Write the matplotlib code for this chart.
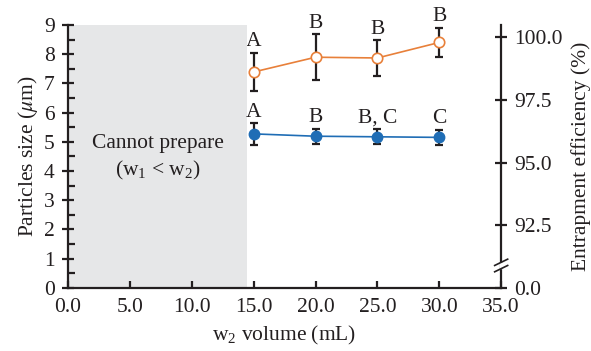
import numpy as np
import matplotlib
matplotlib.use("Agg")
import matplotlib.pyplot as plt
from matplotlib.ticker import MultipleLocator

plt.rcParams["font.family"] = ["Liberation Serif", "DejaVu Serif"]
plt.rcParams["mathtext.fontset"] = "stix"
plt.rcParams["mathtext.default"] = "regular"

# --- data
volume      = [15.0, 20.0, 25.0, 30.0]
size_mean   = [5.27, 5.19, 5.17, 5.15]
size_err    = [0.37, 0.26, 0.26, 0.26]
size_groups = ["A", "B", "B, C", "C"]
ee_mean     = [98.62, 99.21, 99.18, 99.80]
ee_err      = [0.77, 0.91, 0.71, 0.59]
ee_groups   = ["A", "B", "B", "B"]
no_prep     = (0.0, 14.5)

INK    = "#231F20"
BLUE   = "#1F6DB5"
ORANGE = "#E8803A"
SHADE  = "#E6E7E8"
FS     = 15.5

fig = plt.figure(figsize=(5.91, 3.51), dpi=100)
ax = fig.add_axes([0.115, 0.18, 0.733, 0.749])
ax2 = ax.twinx()
ax.set_zorder(ax2.get_zorder() + 1)
ax.patch.set_visible(False)

ax.axvspan(*no_prep, color=SHADE, lw=0, zorder=0)
ax.text(sum(no_prep) / 2, 4.95, "Cannot prepare", ha="center", va="center",
        fontsize=FS, color=INK)
ax.text(sum(no_prep) / 2, 4.0, "(w$_1$ < w$_2$)", ha="center", va="center",
        fontsize=FS, color=INK)

# particle size, left axis
ax.plot(volume, size_mean, color=BLUE, lw=1.2, zorder=3)
ax.errorbar(volume, size_mean, yerr=size_err, fmt="none", ecolor=INK,
            elinewidth=1.6, capsize=3, capthick=1.6, zorder=4)
ax.plot(volume, size_mean, "o", color=BLUE, ms=7.5, zorder=5)
for x, m, e, g in zip(volume, size_mean, size_err, size_groups):
    ax.annotate(g, (x, m + e), xytext=(0, 1), textcoords="offset points",
                ha="center", va="bottom", fontsize=FS, color=INK)

# entrapment efficiency, right axis
ax2.plot(volume, ee_mean, color=ORANGE, lw=1.2, zorder=3)
ax2.errorbar(volume, ee_mean, yerr=ee_err, fmt="none", ecolor=INK,
             elinewidth=1.6, capsize=3, capthick=1.6, zorder=4)
ax2.plot(volume, ee_mean, "o", mfc="white", mec=ORANGE, mew=1.2, ms=7.5,
         zorder=5)
for x, m, e, g in zip(volume, ee_mean, ee_err, ee_groups):
    ax2.annotate(g, (x, m + e), xytext=(0, 1), textcoords="offset points",
                 ha="center", va="bottom", fontsize=FS, color=INK,
                 annotation_clip=False)

ax.set_xlim(0, 35)
ax.set_ylim(0, 9)
ax2.set_ylim(90, 100.5)

ax.set_xticks(np.arange(0, 36, 5))
ax.set_xticklabels([f"{v:.1f}" for v in np.arange(0, 36, 5)])
ax.yaxis.set_major_locator(MultipleLocator(1))
ax.yaxis.set_minor_locator(MultipleLocator(0.5))
ax2.set_yticks([90, 92.5, 95, 97.5, 100])
ax2.set_yticklabels(["0.0", "92.5", "95.0", "97.5", "100.0"])

for a in (ax, ax2):
    a.spines["top"].set_visible(False)
    for s in a.spines.values():
        s.set_linewidth(1.6)
        s.set_color(INK)
ax.spines["right"].set_visible(False)
ax2.spines["left"].set_visible(False)
ax2.spines["bottom"].set_visible(False)

ax.tick_params(axis="x", direction="in", length=5, width=1.6, colors=INK,
               labelsize=FS, pad=7)
ax.tick_params(axis="y", which="major", direction="inout", length=9, width=1.6,
               colors=INK, labelsize=FS, pad=5)
ax.tick_params(axis="y", which="minor", direction="in", length=5, width=1.6,
               colors=INK)
ax2.tick_params(axis="y", direction="inout", length=9, width=1.6, colors=INK,
                labelsize=FS, pad=5)

ax.set_xlabel("w$_2$ volume (mL)", fontsize=FS, color=INK, labelpad=5)
ax.set_ylabel("Particles size ($\\mathit{\\mu}$m)", fontsize=FS, color=INK,
              labelpad=3)
ax2.set_ylabel("Entrapment efficiency (%)", fontsize=FS, color=INK, labelpad=6)

# axis break marks on the right spine
for dy in (-0.012, 0.012):
    ax.plot([0.985, 1.015], [0.085 + dy - 0.012, 0.085 + dy + 0.012],
            transform=ax.transAxes, color=INK, lw=1.2, clip_on=False, zorder=6)
ax.plot([1.0, 1.0], [0.08, 0.09], transform=ax.transAxes, color="white",
        lw=2.5, clip_on=False, zorder=5)

fig.savefig("out.png", dpi=100)
